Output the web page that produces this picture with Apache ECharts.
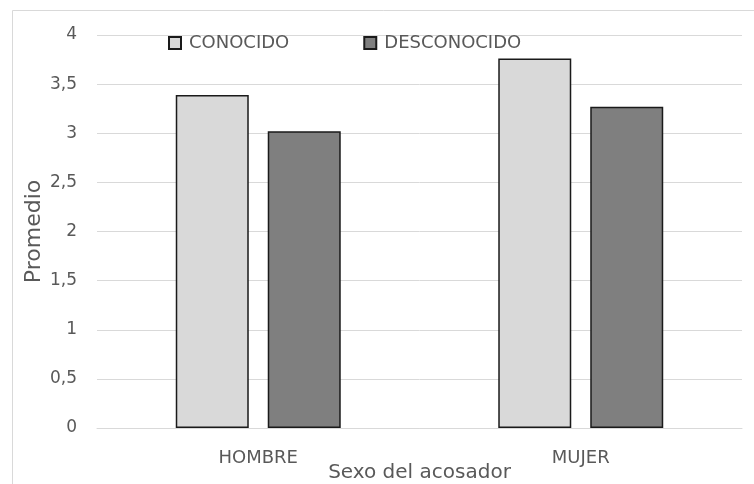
<!DOCTYPE html>
<html><head><meta charset="utf-8">
<script src="https://cdn.jsdelivr.net/npm/echarts@6/dist/echarts.min.js"></script>
<style>html,body{margin:0;padding:0;background:#fff;overflow:hidden}#c{width:754px;height:484px}</style>
</head><body><div id="c"></div>
<script>
const categories = ['HOMBRE', 'MUJER'];
const seriesNames = ['CONOCIDO', 'DESCONOCIDO'];
const conocido = [3.39, 3.76];
const desconocido = [3.02, 3.27];
const yTicks = [0, 0.5, 1, 1.5, 2, 2.5, 3, 3.5, 4];

const FONT = '"DejaVu Sans", sans-serif';
const chart = echarts.init(document.getElementById('c'), null, {renderer: 'canvas'});
chart.setOption({
  animation: false,
  backgroundColor: '#fff',
  graphic: [{
    type: 'rect', shape: {x: 12.5, y: 10.5, width: 800, height: 600},
    style: {fill: 'none', stroke: '#d9d9d9', lineWidth: 1}, silent: true, z: -10
  }],
  legend: {
    left: 168, top: 34, padding: 0, itemWidth: 12, itemHeight: 12, itemGap: 74,
    icon: 'rect',
    textStyle: {color: '#595959', fontSize: 18, fontFamily: FONT, padding: [0, 0, 0, 3]},
    data: seriesNames
  },
  grid: {left: 97, right: 12, top: 35, bottom: 56, containLabel: false, outerBoundsMode: 'none'},
  xAxis: {
    type: 'category', data: categories,
    axisLine: {lineStyle: {color: '#d9d9d9'}}, axisTick: {show: false},
    axisLabel: {color: '#595959', fontSize: 18, fontFamily: FONT, margin: 21},
    name: 'Sexo del acosador', nameLocation: 'middle', nameGap: 35, nameMoveOverlap: false,
    nameTextStyle: {color: '#595959', fontSize: 20, fontFamily: FONT}
  },
  yAxis: {
    type: 'value', min: 0, max: 4, interval: 0.5,
    axisLine: {show: false}, axisTick: {show: false},
    splitLine: {lineStyle: {color: '#d9d9d9'}},
    axisLabel: {color: '#595959', fontSize: 17, fontFamily: FONT, margin: 20,
      formatter: v => yTicks.includes(v) ? String(v).replace('.', ',') : ''},
    name: 'Promedio', nameLocation: 'middle', nameGap: 52, nameRotate: 90, nameMoveOverlap: false,
    nameTextStyle: {color: '#595959', fontSize: 22, fontFamily: FONT}
  },
  series: [
    {name: seriesNames[0], type: 'bar', data: conocido, barWidth: 73, barGap: '26%',
     itemStyle: {color: '#d9d9d9', borderColor: '#1a1a1a', borderWidth: 1.5}},
    {name: seriesNames[1], type: 'bar', data: desconocido, barWidth: 73,
     itemStyle: {color: '#7f7f7f', borderColor: '#1a1a1a', borderWidth: 1.5}}
  ]
});
</script></body></html>
